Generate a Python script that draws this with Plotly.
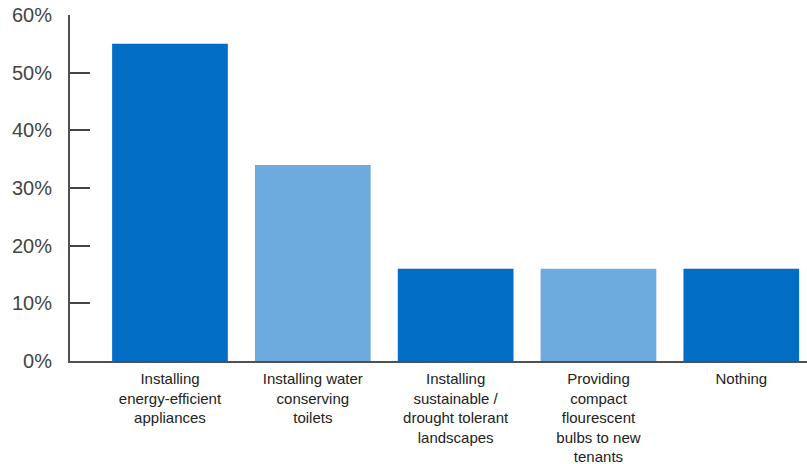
import plotly.graph_objects as go

# Survey responses: share of respondents per sustainability measure
categories = [
    "Installing<br>energy-efficient<br>appliances",
    "Installing water<br>conserving<br>toilets",
    "Installing<br>sustainable /<br>drought tolerant<br>landscapes",
    "Providing<br>compact<br>flourescent<br>bulbs to new<br>tenants",
    "Nothing",
]
values = [55, 34, 16, 16, 16]
bar_colors = ["#026DC4", "#6DAADD", "#026DC4", "#6DAADD", "#026DC4"]

y_tickvals = [0, 10, 20, 30, 40, 50, 60]
y_ticktext = ["0%", "10%", "20%", "30%", "40%", "50%", "60%"]

x_pos = list(range(len(categories)))

fig = go.Figure(
    go.Bar(
        x=x_pos,
        y=values,
        marker=dict(color=bar_colors, line=dict(width=0)),
        width=0.81,
        hoverinfo="skip",
    )
)

fig.update_layout(
    width=807,
    height=464,
    margin=dict(l=70, r=0, t=15, b=103),
    paper_bgcolor="white",
    plot_bgcolor="white",
    showlegend=False,
    font=dict(family="Liberation Sans, Arial, sans-serif", color="#333333"),
)

fig.update_xaxes(
    range=[-0.70, 4.46],
    tickvals=x_pos,
    ticktext=categories,
    showgrid=False,
    zeroline=False,
    showline=True,
    linecolor="#505050",
    linewidth=2,
    ticks="",
    tickfont=dict(size=15, color="#222222"),
    ticklabelstandoff=3,
)

fig.update_yaxes(
    range=[0, 60],
    tickvals=y_tickvals,
    ticktext=y_ticktext,
    showgrid=False,
    zeroline=False,
    showline=True,
    linecolor="#505050",
    linewidth=2,
    ticks="inside",
    ticklen=20,
    tickwidth=2,
    tickcolor="#444444",
    tickfont=dict(size=20, color="#444444"),
    ticklabelstandoff=12,
)

fig.write_html("out.html")
